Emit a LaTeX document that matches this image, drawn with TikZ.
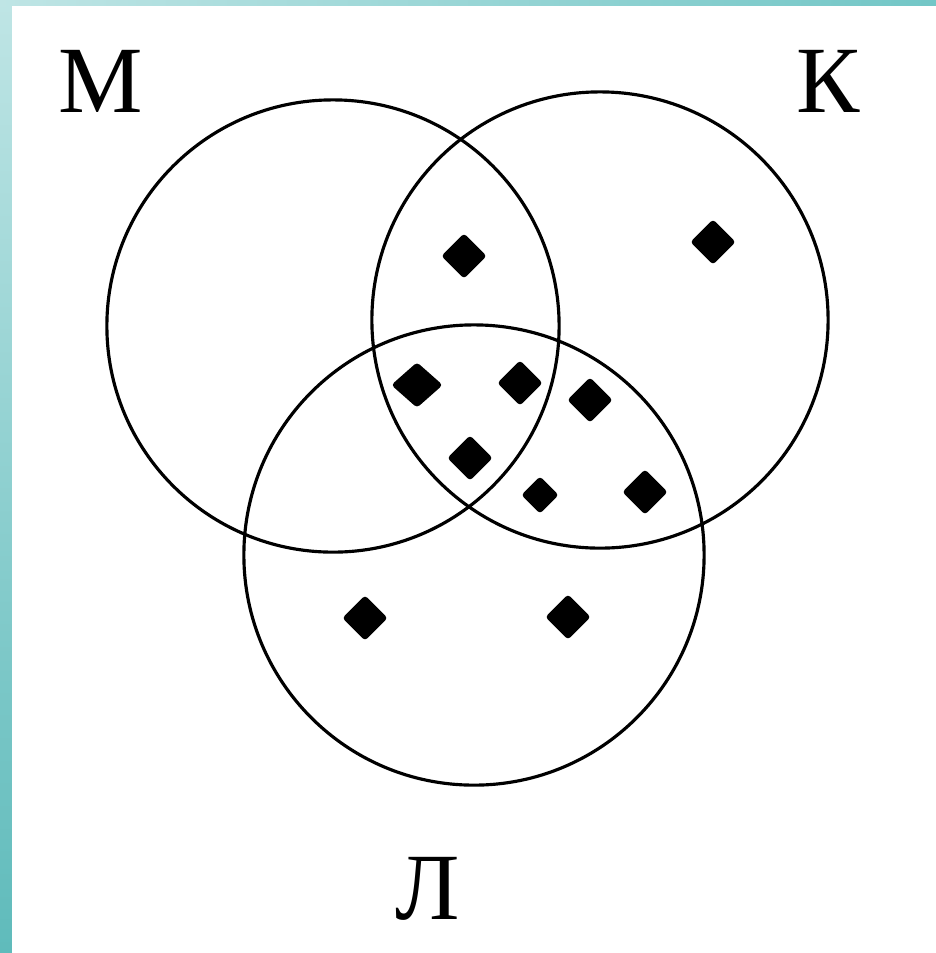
\documentclass[tikz,border=0pt]{standalone}
\usepackage{fontspec}
\setmainfont{Liberation Serif}
\usetikzlibrary{shapes.geometric}
\definecolor{tealA}{HTML}{BFE5E5}
\definecolor{tealB}{HTML}{5FBBBB}
\definecolor{tealC}{HTML}{72C6C6}
\tikzset{
    set/.style={draw, circle, line width=0.9pt, inner sep=0pt},
    elem/.style={diamond, fill=black, inner sep=0pt, minimum size=0.46cm, rounded corners=1pt},
    setname/.style={font=\fontsize{27}{30}\selectfont, inner sep=0pt}
}
\begin{document}
\begin{tikzpicture}[x=0.01cm,y=-0.01cm]
\useasboundingbox (0,0) rectangle (936,953);
% frame
\shade[top color=tealA, bottom color=tealB] (0,0) rectangle (12,953);
\shade[left color=tealA, right color=tealC] (0,0) rectangle (936,6);
\fill[white] (12,6) rectangle (936,953);

% sets
\node[set, minimum size=4.52cm] (M) at (333,326) {};
\node[set, minimum size=4.56cm] (K) at (600,320) {};
\node[set, minimum size=4.60cm] (L) at (474,555) {};

\node[setname] (nM) at (101,81) {М};
\node[setname] (nK) at (828,81) {К};
\node[setname] (nL) at (428,889) {Л};

% elements
\foreach \x/\y/\n in {464/256/1,713/242/2,520/383/3,590/400/4,470/458/5,645/492/6,365/618/7,568/617/8}
{
    \node[elem] (e\n) at (\x,\y) {};
}
\node[elem, minimum width=0.52cm] (e9) at (417,385) {};
\node[elem, minimum size=0.38cm] (e10) at (540,495) {};
\end{tikzpicture}
\end{document}
